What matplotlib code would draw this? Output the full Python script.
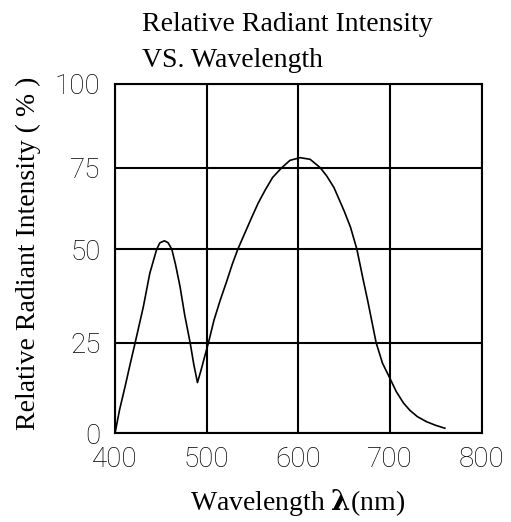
import matplotlib.pyplot as plt
import numpy as np

# curve (nm, %)
wavelength = [400, 405, 411, 416, 422, 431, 438, 445.5, 449, 454, 458, 462, 466,
              471, 476, 482, 486, 490, 494, 498, 502, 508, 515, 522, 528, 534,
              541, 548, 556, 564, 572, 582, 591, 602, 613, 624, 631, 639, 650,
              657, 664, 671, 676, 680.5, 685, 692, 700, 707, 715, 722, 730, 740, 750, 760]
intensity = [0, 6.5, 12.9, 18.5, 25, 34.7, 43.6, 50, 52, 52.6, 52, 50, 46,
             40, 32.5, 25, 19, 14, 17.5, 21.3, 25, 31, 36.5, 41.5, 46, 50,
             54.5, 59, 64, 68.2, 72, 75, 77.2, 78, 77.5, 75, 72.5, 68.9, 61.8,
             56.8, 50, 41.7, 36, 30.5, 25, 19.3, 15.2, 11.5, 8.3, 6.3, 4.6, 3.2, 2.2, 1.4]

x_ticks = [400, 500, 600, 700, 800]
y_ticks = [0, 25, 50, 75, 100]
# the original grid is unevenly spaced, pixel heights of each y gridline
y_tick_px = [0, 90.6, 184, 265.6, 349.3]

def fwd(v):
    return np.interp(v, y_ticks, y_tick_px)

def inv(p):
    return np.interp(p, y_tick_px, y_ticks)

plt.rcParams['mathtext.fontset'] = 'dejavuserif'

fig = plt.figure(figsize=(5.11, 5.22), dpi=100)
ax = fig.add_axes([115/511, 1-433.3/522, 366.5/511, 349.3/522])

ax.plot(wavelength, intensity, color='black', lw=1.2)

ax.set_yscale('function', functions=(fwd, inv))
ax.set_xlim(400, 800)
ax.set_ylim(0, 100)
ax.set_xticks(x_ticks)
ax.set_yticks(y_ticks)
ax.grid(True, color='black', lw=1.5)
for s in ax.spines.values():
    s.set_linewidth(1.5)
    s.set_color('black')
ax.tick_params(axis='both', length=0, labelsize=20)
ax.tick_params(axis='x', pad=9.5)
ax.tick_params(axis='y', pad=10.5)
for lab in ax.get_xticklabels() + ax.get_yticklabels():
    lab.set_fontfamily('Roboto')
    lab.set_fontweight('light')
    lab.set_color('black')

serif = 'Liberation Serif'
fig.text(142/511, 1-30.7/522, 'Relative Radiant Intensity', fontsize=20,
         family=serif, va='baseline', ha='left')
fig.text(142/511, 1-66.7/522, 'VS. Wavelength', fontsize=20,
         family=serif, va='baseline', ha='left')
fig.text(28/511, 1-253.5/522, 'Relative Radiant Intensity ( % )', fontsize=20,
         family=serif, rotation=90, va='center', ha='center')
fig.text(297.5/511, 1-503/522, r'Wavelength $\mathbf{\lambda}$(nm)', fontsize=20,
         family=serif, va='center', ha='center')

fig.savefig('out.png', dpi=100)
